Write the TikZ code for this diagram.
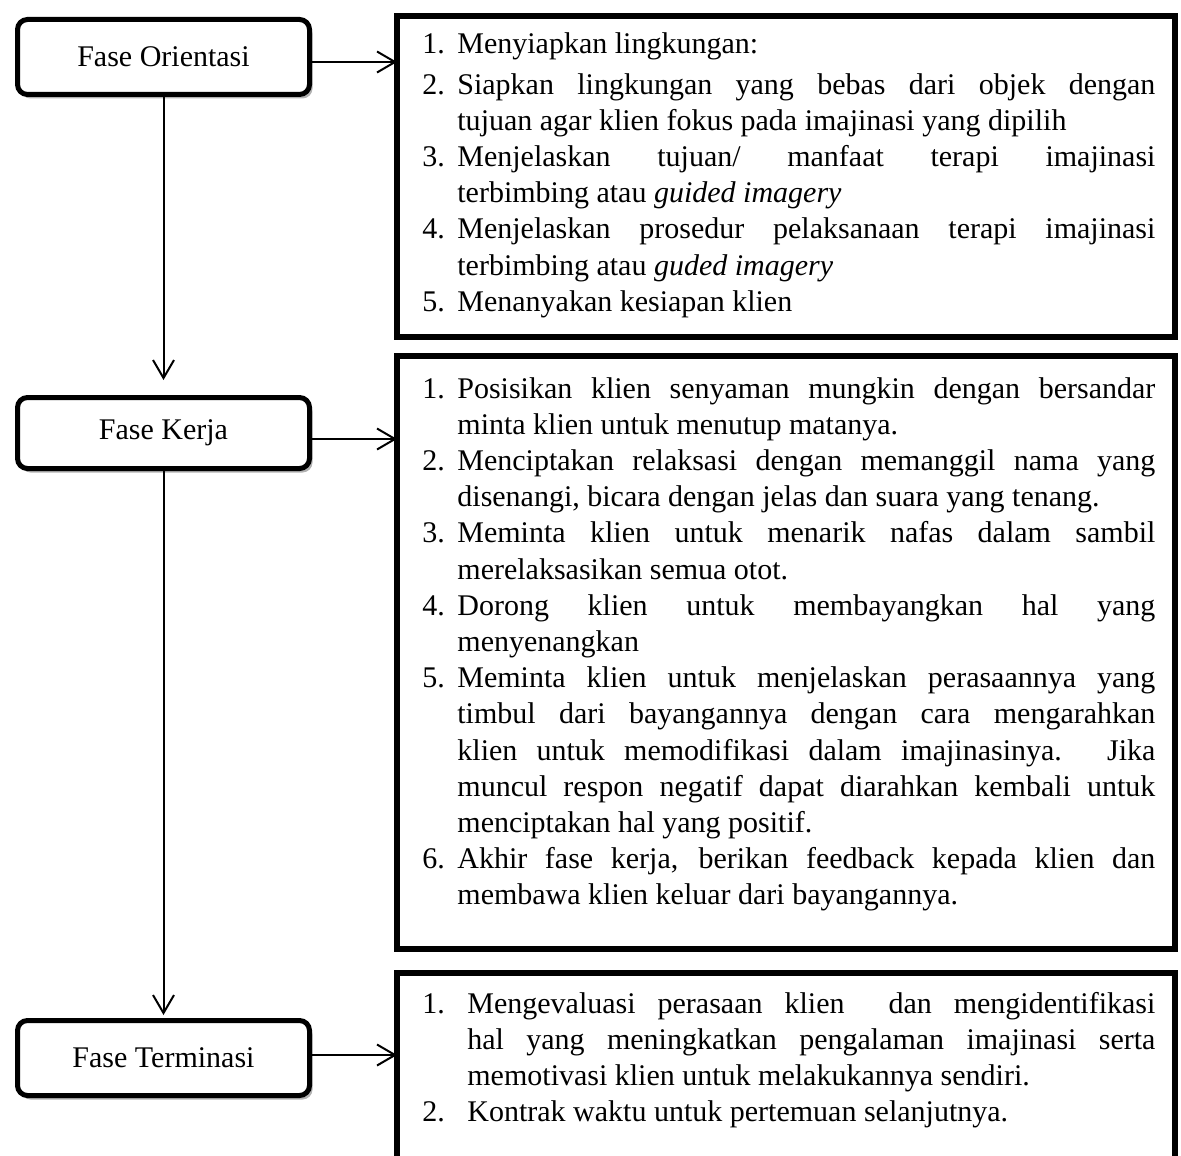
\documentclass[tikz,border=0pt]{standalone}
\usepackage{fontspec}
\setmainfont{Liberation Serif}
\usetikzlibrary{arrows.meta,shadows}

\newlength{\du}
\setlength{\du}{0.5pt}

\tikzset{
  phasebox/.style={draw=black, line width=2.5pt, rounded corners=5pt, fill=white,
    minimum width=292\du, minimum height=75\du, inner sep=0pt,
    font=\fontsize{15pt}{18pt}\selectfont,
    drop shadow={shadow xshift=1.5pt, shadow yshift=-2pt, fill=black, opacity=0.3}},
  listbox/.style={draw=black, line width=3pt, inner sep=0pt, outer sep=0pt, anchor=north west},
  listtext/.style={anchor=base west, inner sep=0pt, font=\fontsize{15pt}{18.1pt}\selectfont},
  flowarrow/.style={line width=1pt, -{Straight Barb[length=9pt, width=10.5pt]}},
}

% one numbered line with hanging indent
\newcommand{\phaseitem}[3][35\du]{\par\hangindent=#1\hangafter=1\noindent\makebox[#1][l]{#2}#3\par}

\begin{document}
\begin{tikzpicture}[yscale=-1]
\useasboundingbox (0,0) rectangle (1181\du,1155\du);

% phases on the left
\node[phasebox] (orient) at (163.5\du,57\du) {Fase Orientasi};
\node[phasebox, minimum height=71\du] (kerja) at (163.5\du,433\du) {Fase Kerja};
\node[phasebox] (termin) at (163.5\du,1058\du) {Fase Terminasi};

% boxes on the right
\node[listbox, minimum width=778\du, minimum height=320.5\du] (orientlist) at (397\du,16.5\du) {};
\node[listbox, minimum width=778\du, minimum height=593\du] (kerjalist) at (397\du,356\du) {};
\node[listbox, minimum width=778\du, minimum height=260\du] (terminlist) at (397\du,973\du) {};

\node[listtext] (orienttext) at (422\du,54\du) {\parbox[t]{733\du}{\sloppy\parskip=0pt
\phaseitem{1.}{Menyiapkan lingkungan:}\vspace{4\du}
\phaseitem{2.}{Siapkan lingkungan yang bebas dari objek dengan \linebreak tujuan agar klien fokus pada imajinasi yang dipilih}
\phaseitem{3.}{Menjelaskan tujuan/ manfaat terapi imajinasi \linebreak terbimbing atau \textit{guided imagery}}
\phaseitem{4.}{Menjelaskan prosedur pelaksanaan terapi imajinasi \linebreak terbimbing atau \textit{guded imagery}}
\phaseitem{5.}{Menanyakan kesiapan klien}}};

\node[listtext] (kerjatext) at (422\du,398\du) {\parbox[t]{733\du}{\sloppy\parskip=0pt
\phaseitem{1.}{Posisikan klien senyaman mungkin dengan bersandar \linebreak minta klien untuk menutup matanya.}
\phaseitem{2.}{Menciptakan relaksasi dengan memanggil nama yang \linebreak disenangi, bicara dengan jelas dan suara yang tenang.}
\phaseitem{3.}{Meminta klien untuk menarik nafas dalam sambil \linebreak merelaksasikan semua otot.}
\phaseitem{4.}{Dorong klien untuk membayangkan hal yang \linebreak menyenangkan}
\phaseitem{5.}{Meminta klien untuk menjelaskan perasaannya yang \linebreak timbul dari bayangannya dengan cara mengarahkan \linebreak klien untuk memodifikasi dalam imajinasinya. Jika \linebreak muncul respon negatif dapat diarahkan kembali untuk \linebreak menciptakan hal yang positif.}
\phaseitem{6.}{Akhir fase kerja, berikan feedback kepada klien dan \linebreak membawa klien keluar dari bayangannya.}}};

\node[listtext] (termintext) at (422\du,1013\du) {\parbox[t]{733\du}{\sloppy\parskip=0pt
\phaseitem[45\du]{1.}{Mengevaluasi perasaan klien\ \ dan mengidentifikasi \linebreak hal yang meningkatkan pengalaman imajinasi serta \linebreak memotivasi klien untuk melakukannya sendiri.}
\phaseitem[45\du]{2.}{Kontrak waktu untuk pertemuan selanjutnya.}}};

% arrows
\draw[flowarrow, shorten >=15\du] (orient) -- (kerja);
\draw[flowarrow, shorten >=3\du] (kerja) -- (termin);
\draw[flowarrow] ([yshift=5\du]orient.east) -- ([yshift=5\du]orient.east -| orientlist.west);
\draw[flowarrow] ([yshift=6\du]kerja.east) -- ([yshift=6\du]kerja.east -| kerjalist.west);
\draw[flowarrow] ([yshift=-3\du]termin.east) -- ([yshift=-3\du]termin.east -| terminlist.west);
\end{tikzpicture}
\end{document}
